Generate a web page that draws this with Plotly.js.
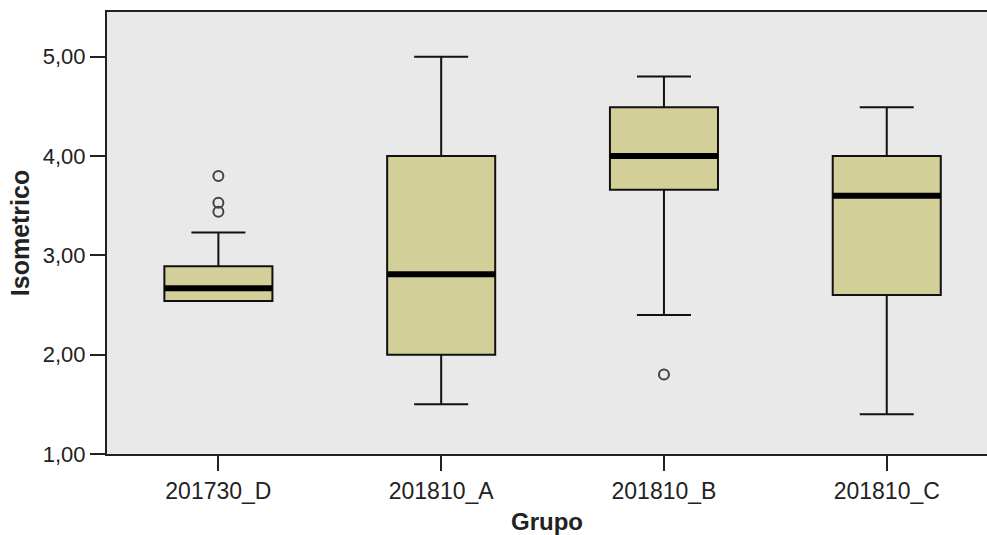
<!DOCTYPE html>
<html>
<head>
<meta charset="utf-8">
<script src="https://cdn.plot.ly/plotly-3.0.1.min.js"></script>
<style>html,body{margin:0;padding:0;background:#fff;}#chart{width:987px;height:535px;}</style>
</head>
<body>
<div id="chart"></div>
<script>
var categories = ['201730_D', '201810_A', '201810_B', '201810_C'];
var q1 = [2.54, 2.00, 3.66, 2.60];
var median = [2.67, 2.81, 4.00, 3.60];
var q3 = [2.89, 4.00, 4.49, 4.00];
var lowerFence = [2.54, 1.50, 2.40, 1.40];
var upperFence = [3.23, 5.00, 4.80, 4.49];
var outlierGroup = [0, 0, 0, 2];
var outlierValue = [3.80, 3.53, 3.44, 1.80];
var yTicks = [1, 2, 3, 4, 5];

var boxWidth = 0.485;
var pos = categories.map(function (c, i) { return i; });

var medX = [], medY = [];
pos.forEach(function (p, i) {
  medX.push(p - boxWidth / 2, p + boxWidth / 2, null);
  medY.push(median[i], median[i], null);
});

var traces = [
  {
    type: 'box',
    x: pos,
    q1: q1, median: median, q3: q3,
    lowerfence: lowerFence, upperfence: upperFence,
    width: boxWidth,
    whiskerwidth: 0.5,
    fillcolor: '#d3cf98',
    line: {color: '#111111', width: 2},
    boxpoints: false,
    hoverinfo: 'skip',
    showlegend: false
  },
  {
    type: 'scatter', mode: 'lines',
    x: medX, y: medY,
    line: {color: '#000000', width: 6},
    hoverinfo: 'skip', showlegend: false
  },
  {
    type: 'scatter', mode: 'markers',
    x: outlierGroup, y: outlierValue,
    marker: {symbol: 'circle-open', size: 10, color: '#444444', line: {width: 2, color: '#444444'}},
    hoverinfo: 'skip', showlegend: false
  }
];

var layout = {
  width: 987, height: 535,
  margin: {l: 107, r: 0, t: 12, b: 81, pad: 0},
  paper_bgcolor: '#ffffff',
  plot_bgcolor: '#e9e9e9',
  font: {family: 'Liberation Sans, Arial, sans-serif', color: '#222222', size: 21},
  separators: ',.',
  xaxis: {
    range: [-0.5, 3.45],
    tickmode: 'array', tickvals: pos, ticktext: categories,
    ticks: 'outside', ticklen: 15, tickwidth: 2, tickcolor: '#222',
    showgrid: false, zeroline: false,
    showline: true, linecolor: '#222', linewidth: 2, mirror: true,
    tickfont: {size: 23, color: '#222'},
    title: {text: '<b>Grupo</b>', font: {size: 24, color: '#222'}, standoff: 12}
  },
  yaxis: {
    range: [1, 5.45],
    tickmode: 'array', tickvals: yTicks,
    tickformat: '.2f',
    ticks: 'outside', ticklen: 15, tickwidth: 2, tickcolor: '#222',
    showgrid: false, zeroline: false,
    showline: true, linecolor: '#222', linewidth: 2,
    tickfont: {size: 22, color: '#222'},
    title: {text: '<b>Isometrico</b>', font: {size: 25, color: '#222'}, standoff: 6}
  }
};

Plotly.newPlot('chart', traces, layout, {displayModeBar: false, staticPlot: true});
</script>
</body>
</html>
